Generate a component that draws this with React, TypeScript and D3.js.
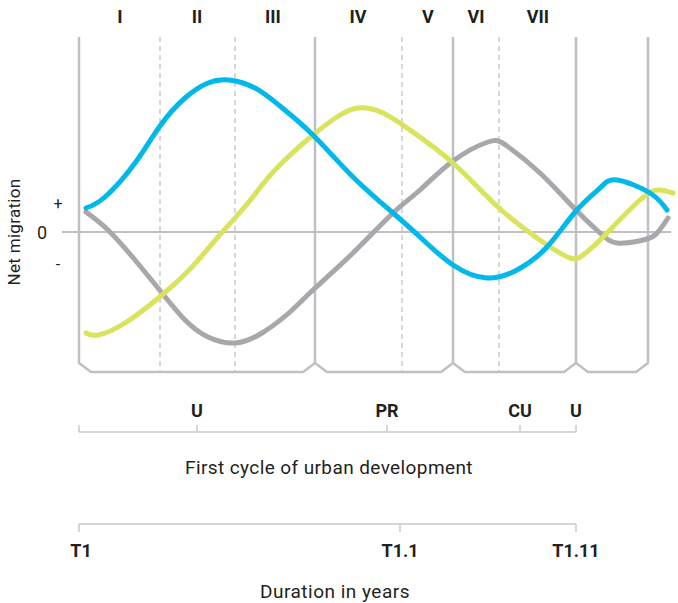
import * as d3 from 'd3';
import { useEffect, useRef } from 'react';

// time axis runs in arbitrary units, 0 = T1
const phaseLabels = ['I', 'II', 'III', 'IV', 'V', 'VI', 'VII'];
const phaseLabelPos = [41, 118, 194, 279, 349, 397, 459];
const solidBounds = [236, 374, 497];
const dashedBounds = [81, 156, 323, 420];
const leftEdge = 0;
const rightEdge = 569;

const cycleLabels = ['U', 'PR', 'CU', 'U'];
const cycleTicks = [118, 308, 441, 497];

const durationLabels = ['T1', 'T1.1', 'T1.11'];
const durationTicks = [0, 321, 497];

// net migration curves: [time, value]
const blueSeries: [number, number][] = [
    [7, 24], [26, 35], [56, 69], [81, 106], [106, 134], [129, 149], [150, 152], [176, 144],
    [201, 126], [234, 97], [274, 55], [314, 19], [341, -5], [374, -33], [408, -46], [438, -38],
    [468, -15], [497, 21], [521, 44], [538, 52], [571, 39], [588, 22]
];
const greySeries: [number, number][] = [
    [7, 20], [29, 2], [56, -28], [83, -61], [106, -88], [129, -105], [156, -111], [183, -101],
    [211, -80], [234, -58], [274, -21], [314, 19], [341, 42], [374, 71], [409, 90], [428, 86],
    [461, 59], [494, 25], [521, -1], [538, -11], [560, -9], [576, -3], [589, 14]
];
const yellowSeries: [number, number][] = [
    [7, -101], [19, -103], [46, -91], [83, -63], [113, -35], [139, -5], [169, 29], [196, 62],
    [234, 97], [258, 115], [279, 124], [304, 119], [331, 102], [374, 69], [419, 25], [461, -8],
    [491, -26], [504, -23], [521, -8], [561, 32], [581, 42], [594, 39]
];

const FONT = 'Roboto, "Noto Sans", sans-serif';
const GRID = '#c0c0c4';
const TEXT = '#231f20';

const App: React.FC = () => {
    const svgRef = useRef<SVGSVGElement | null>(null);

    useEffect(() => {
        if (!svgRef.current) return;
        const svg = d3.select(svgRef.current);
        svg.selectAll('*').remove();

        const x = d3.scaleLinear().domain([0, 600]).range([79, 679]);
        const y = d3.scaleLinear().domain([-150, 200]).range([382, 32]);

        const top = 37;
        const notch = 363;
        const bottom = 372;
        const d = 12;

        // zero line
        svg.append('line')
            .attr('x1', 62).attr('x2', x(592))
            .attr('y1', y(0)).attr('y2', y(0))
            .attr('stroke', GRID).attr('stroke-width', 2);

        // dashed phase bounds
        svg.selectAll('.dash')
            .data(dashedBounds)
            .enter().append('line')
            .attr('x1', t => x(t)).attr('x2', t => x(t))
            .attr('y1', top).attr('y2', bottom)
            .attr('stroke', '#bdbdbd').attr('stroke-width', 1.2)
            .attr('stroke-dasharray', '5,4');

        // solid bounds
        svg.selectAll('.solid')
            .data(solidBounds)
            .enter().append('line')
            .attr('x1', t => x(t)).attr('x2', t => x(t))
            .attr('y1', top).attr('y2', notch)
            .attr('stroke', GRID).attr('stroke-width', 2.5);

        // bracket across the bottom
        const bounds = [leftEdge, ...solidBounds, rightEdge];
        let p = `M${x(leftEdge)},${top}V${notch}`;
        bounds.forEach((b, i) => {
            if (i === 0) {
                p += `L${x(b) + d},${bottom}`;
            } else if (i === bounds.length - 1) {
                p += `H${x(b) - d}L${x(b)},${notch}V${top}`;
            } else {
                p += `H${x(b) - d}L${x(b)},${notch}L${x(b) + d},${bottom}`;
            }
        });
        svg.append('path')
            .attr('d', p)
            .attr('fill', 'none')
            .attr('stroke', GRID).attr('stroke-width', 2.5)
            .attr('stroke-linejoin', 'round');

        // curves
        const line = d3.line<[number, number]>()
            .x(dd => x(dd[0]))
            .y(dd => y(dd[1]))
            .curve(d3.curveNatural);

        const series: [[number, number][], string][] = [
            [greySeries, '#a8a8ac'],
            [yellowSeries, '#d9e35e'],
            [blueSeries, '#00b9ea']
        ];
        series.forEach(([data, color]) => {
            svg.append('path')
                .attr('d', line(data))
                .attr('fill', 'none')
                .attr('stroke', color)
                .attr('stroke-width', 5)
                .attr('stroke-linecap', 'round');
        });

        // phase labels
        svg.selectAll('.phase')
            .data(phaseLabels)
            .enter().append('text')
            .attr('x', (_l, i) => x(phaseLabelPos[i]))
            .attr('y', 23)
            .attr('text-anchor', 'middle')
            .attr('font-family', FONT)
            .attr('font-weight', 700)
            .attr('font-size', 18)
            .attr('fill', TEXT)
            .text(l => l);

        // y axis marks
        svg.append('text').attr('x', 58).attr('y', 209).attr('text-anchor', 'middle')
            .attr('font-family', FONT).attr('font-size', 16).attr('fill', TEXT).text('+');
        svg.append('text').attr('x', 42).attr('y', 239).attr('text-anchor', 'middle')
            .attr('font-family', FONT).attr('font-size', 18).attr('fill', TEXT).text('0');
        svg.append('text').attr('x', 58).attr('y', 270).attr('text-anchor', 'middle')
            .attr('font-family', FONT).attr('font-size', 16).attr('fill', TEXT).text('-');

        svg.append('text')
            .attr('transform', `translate(20,${y(0)})rotate(-90)`)
            .attr('text-anchor', 'middle')
            .attr('font-family', FONT).attr('font-size', 17).attr('fill', TEXT)
            .attr('letter-spacing', 0.3)
            .text('Net migration');

        // first cycle axis
        const cy = 432;
        svg.append('line')
            .attr('x1', x(0)).attr('x2', x(497))
            .attr('y1', cy).attr('y2', cy)
            .attr('stroke', '#c8c8c8').attr('stroke-width', 1.5);
        svg.selectAll('.ctick')
            .data([0, ...cycleTicks])
            .enter().append('line')
            .attr('x1', t => x(t)).attr('x2', t => x(t))
            .attr('y1', cy - 7).attr('y2', cy)
            .attr('stroke', '#c8c8c8').attr('stroke-width', 1.5);
        svg.selectAll('.clabel')
            .data(cycleLabels)
            .enter().append('text')
            .attr('x', (_l, i) => x(cycleTicks[i]))
            .attr('y', 417)
            .attr('text-anchor', 'middle')
            .attr('font-family', FONT).attr('font-weight', 700).attr('font-size', 18)
            .attr('fill', TEXT)
            .text(l => l);
        svg.append('text')
            .attr('x', 329).attr('y', 474)
            .attr('text-anchor', 'middle')
            .attr('font-family', FONT).attr('font-size', 19).attr('fill', TEXT)
            .attr('letter-spacing', 0.4)
            .text('First cycle of urban development');

        // duration axis
        const dy = 524;
        svg.append('line')
            .attr('x1', x(0)).attr('x2', x(497))
            .attr('y1', dy).attr('y2', dy)
            .attr('stroke', '#c8c8c8').attr('stroke-width', 1.5);
        svg.selectAll('.dtick')
            .data(durationTicks)
            .enter().append('line')
            .attr('x1', t => x(t)).attr('x2', t => x(t))
            .attr('y1', dy).attr('y2', dy + 8)
            .attr('stroke', '#c8c8c8').attr('stroke-width', 1.5);
        svg.selectAll('.dlabel')
            .data(durationLabels)
            .enter().append('text')
            .attr('x', (_l, i) => x(durationTicks[i]) + (i === 0 ? 2 : 0))
            .attr('y', 557)
            .attr('text-anchor', 'middle')
            .attr('font-family', FONT).attr('font-weight', 700).attr('font-size', 18)
            .attr('fill', TEXT)
            .text(l => l);
        svg.append('text')
            .attr('x', 335).attr('y', 598)
            .attr('text-anchor', 'middle')
            .attr('font-family', FONT).attr('font-size', 19).attr('fill', TEXT)
            .attr('letter-spacing', 0.5)
            .text('Duration in years');
    }, []);

    return (
        <svg ref={svgRef} width={678} height={603}
            style={{ position: 'absolute', left: 0, top: 0, background: '#fff' }} />
    );
};

export default App;
